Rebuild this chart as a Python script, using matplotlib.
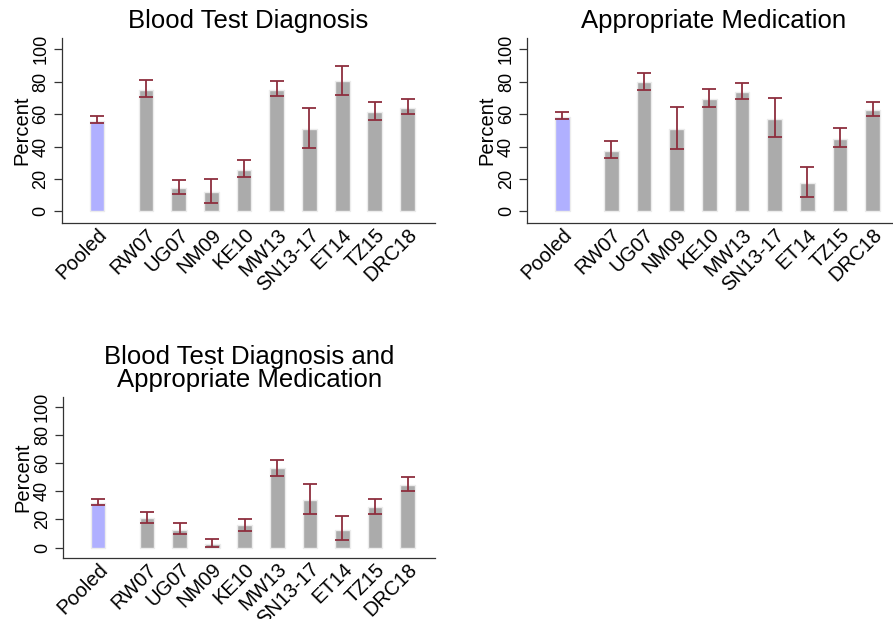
import matplotlib
matplotlib.use("Agg")
import matplotlib.pyplot as plt
import numpy as np

plt.rcParams['font.family'] = ['Liberation Sans', 'DejaVu Sans']

categories = ["Pooled", "RW07", "UG07", "NM09", "KE10", "MW13", "SN13-17", "ET14", "TZ15", "DRC18"]

titles = ["Blood Test Diagnosis",
          "Appropriate Medication",
          "Blood Test Diagnosis and\nAppropriate Medication"]

blood_val = [55.5, 75.1, 14.5, 11.8, 25.5, 75.1, 50.8, 80.2, 61.2, 63.9]
blood_hi  = [59.0, 80.8, 19.6, 20.2, 31.4, 80.6, 63.9, 89.6, 67.6, 69.4]
blood_lo  = [54.3, 70.6, 10.8, 4.9, 21.0, 71.0, 39.2, 72.0, 56.3, 59.8]

med_val = [58.2, 37.3, 79.8, 50.8, 69.4, 73.5, 57.3, 17.6, 44.7, 62.4]
med_hi  = [61.2, 43.3, 85.5, 64.3, 75.5, 79.0, 70.0, 27.1, 51.2, 67.6]
med_lo  = [56.7, 32.9, 74.7, 38.6, 64.7, 69.6, 45.9, 9.0, 39.8, 58.8]

both_val = [31.3, 20.7, 12.8, 2.7, 15.9, 56.4, 34.0, 12.8, 28.7, 44.6]
both_hi  = [34.7, 25.3, 17.1, 6.3, 20.5, 62.4, 45.3, 22.2, 34.7, 49.9]
both_lo  = [29.9, 17.6, 9.6, 0.2, 11.8, 51.1, 23.9, 5.1, 24.1, 40.2]

yticks = [0, 20, 40, 60, 80, 100]

W, H = 893, 619
fig = plt.figure(figsize=(W / 100, H / 100), dpi=100)

# axes boxes in pixels: left, top, right, bottom
boxes = [(62, 38, 435, 223), (527.3, 38, 900, 223), (63.3, 396.7, 435, 557.7)]
data = [(blood_val, blood_lo, blood_hi),
        (med_val, med_lo, med_hi),
        (both_val, both_lo, both_hi)]

positions = np.array([0] + [1.5 + i for i in range(len(categories) - 1)])
bar_colors = ['#b0b0ff'] + ['#ababab'] * (len(categories) - 1)

for (l, t, r, b), (vals, lo, hi), title in zip(boxes, data, titles):
    ax = fig.add_axes([l / W, 1 - b / H, (r - l) / W, (b - t) / H])
    ax.bar(positions, vals, width=0.45, color=bar_colors,
           edgecolor='#ececec', linewidth=1.0, zorder=2)
    vals_a = np.array(vals); lo_a = np.array(lo); hi_a = np.array(hi)
    ax.errorbar(positions, vals_a, yerr=[vals_a - lo_a, hi_a - vals_a],
                fmt='none', ecolor='#8e2e3e', elinewidth=1.3, capsize=5,
                capthick=1.3, zorder=3)
    ax.set_xlim(-1.07, 10.34)
    ax.set_ylim(-7.2, 107)
    ax.set_yticks(yticks)
    ax.set_yticklabels([str(v) for v in yticks], rotation=90, va='center',
                       fontsize=13)
    ax.tick_params(axis='y', length=6, width=0.9, color='#333333', pad=3)
    ax.set_xticks(positions)
    ax.set_xticklabels(categories, rotation=45, ha='right',
                       rotation_mode='anchor', fontsize=14.5)
    ax.tick_params(axis='x', length=0, pad=1.5)
    ax.set_ylabel("Percent", fontsize=14.5, labelpad=1)
    for s in ['top', 'right']:
        ax.spines[s].set_visible(False)
    for s in ['left', 'bottom']:
        ax.spines[s].set_color('#333333')
        ax.spines[s].set_linewidth(0.9)
    ax.set_title(title, fontsize=18.5, pad=7, linespacing=0.95)

fig.savefig("out.png", dpi=100)
